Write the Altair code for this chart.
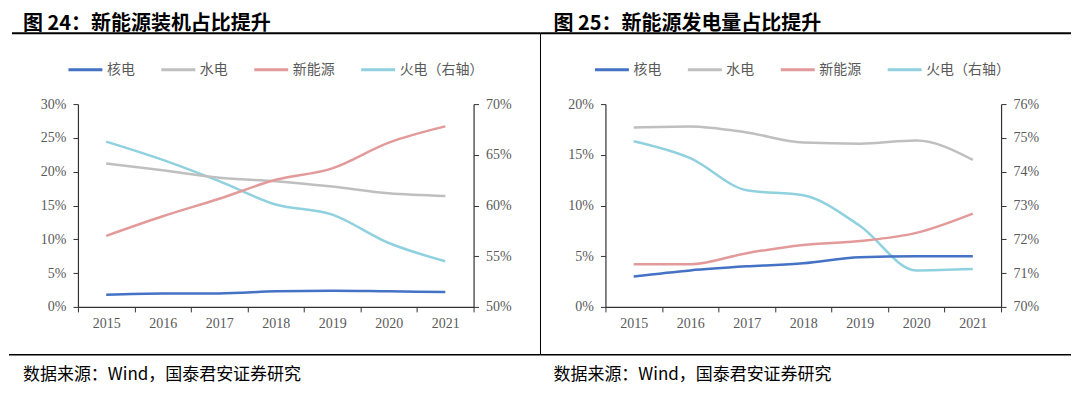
import altair as alt
import pandas as pd

years = ["2015", "2016", "2017", "2018", "2019", "2020", "2021"]
series_names = ["核电", "水电", "新能源", "火电（右轴）"]
series_colors = ["#4472c4", "#bfbfbf", "#e39a9a", "#8fd1de"]

# 图24 装机占比 (%)
cap_nuclear = [1.8, 2.0, 2.0, 2.3, 2.4, 2.3, 2.2]
cap_hydro = [21.2, 20.2, 19.1, 18.6, 17.8, 16.8, 16.4]
cap_new = [10.5, 13.4, 16.0, 18.8, 20.5, 24.3, 26.7]
cap_thermal = [66.3, 64.5, 62.4, 60.1, 59.1, 56.3, 54.5]

# 图25 发电量占比 (%)
gen_nuclear = [3.0, 3.6, 4.0, 4.3, 4.9, 5.0, 5.0]
gen_hydro = [17.7, 17.8, 17.2, 16.2, 16.1, 16.4, 14.5]
gen_new = [4.2, 4.2, 5.3, 6.1, 6.5, 7.3, 9.2]
gen_thermal = [74.9, 74.4, 73.45, 73.3, 72.4, 71.08, 71.12]

titles = ["图  24：新能源装机占比提升", "图  25：新能源发电量占比提升"]
source_text = "数据来源：Wind，国泰君安证券研究"

left_ticks_1 = [0, 5, 10, 15, 20, 25, 30]
right_ticks_1 = [50, 55, 60, 65, 70]
left_ticks_2 = [0, 5, 10, 15, 20]
right_ticks_2 = [70, 71, 72, 73, 74, 75, 76]

W = 396
H = 203
CJK = "Noto Sans CJK SC"


def one(k):
    return pd.DataFrame({"k": [k]})


def rule(x1, x2, y1, y2, width, color="#000000"):
    enc = {"x": alt.value(x1), "y": alt.value(y1)}
    if x2 is not None:
        enc["x2"] = alt.value(x2)
    if y2 is not None:
        enc["y2"] = alt.value(y2)
    return alt.Chart(one(0)).mark_rule(strokeWidth=width, color=color).encode(**enc)


def panel(nuc, hyd, new, therm, ldom, lvals, rdom, rvals, title, legx, decos, tx):
    left_df = pd.DataFrame({
        "year": years * 3,
        "series": [series_names[0]] * 7 + [series_names[1]] * 7 + [series_names[2]] * 7,
        "value": nuc + hyd + new,
    })
    right_df = pd.DataFrame({"year": years, "series": [series_names[3]] * 7, "value": therm})

    x = alt.X("year:O",
              scale=alt.Scale(type="band", paddingInner=0, paddingOuter=0),
              bandPosition=0.5,
              axis=alt.Axis(title=None, labelAngle=0, tickBand="extent", labelPadding=5))
    legend = alt.Legend(orient="none", legendX=legx, legendY=-53, direction="horizontal",
                        title=None, symbolType="stroke", symbolStrokeWidth=3, symbolSize=1156,
                        labelFont=CJK, labelFontSize=14, labelColor="#595959",
                        columnPadding=20, labelOffset=3)
    color = alt.Color("series:N", scale=alt.Scale(domain=series_names, range=series_colors),
                      legend=legend)

    lines_l = alt.Chart(left_df).mark_line(interpolate="monotone", strokeWidth=2.5).encode(
        x=x,
        y=alt.Y("value:Q", scale=alt.Scale(domain=ldom, nice=False, zero=False),
                axis=alt.Axis(orient="left", values=lvals, labelExpr="datum.value + '%'",
                              title=None, labelPadding=7)),
        color=color,
        detail="series:N",
    )
    lines_r = alt.Chart(right_df).mark_line(interpolate="monotone", strokeWidth=2.5).encode(
        x=x,
        y=alt.Y("value:Q", scale=alt.Scale(domain=rdom, nice=False, zero=False),
                axis=alt.Axis(orient="right", values=rvals, labelExpr="datum.value + '%'",
                              title=None, labelPadding=7)),
        color=color,
    )
    title_t = alt.Chart(pd.DataFrame({"t": [title]})).mark_text(
        align="left", baseline="middle", fontSize=20, fontWeight="bold", font=CJK, color="#000000"
    ).encode(text="t:N", x=alt.value(tx), y=alt.value(-80))
    src_t = alt.Chart(pd.DataFrame({"t": [source_text]})).mark_text(
        align="left", baseline="middle", fontSize=17, font=CJK, color="#000000"
    ).encode(text="t:N", x=alt.value(tx), y=alt.value(271))

    return alt.layer(lines_r, lines_l, *decos, title_t, src_t).resolve_scale(
        y="independent").properties(width=W, height=H)


p1 = panel(cap_nuclear, cap_hydro, cap_new, cap_thermal, [0, 30], left_ticks_1, [50, 70],
           right_ticks_1, titles[0], -11,
           [rule(-66, 463, -71, None, 2), rule(463, None, -71, 251, 1),
            rule(-69, 463, 251, None, 1.5)], -55)
p2 = panel(gen_nuclear, gen_hydro, gen_new, gen_thermal, [0, 20], left_ticks_2, [70, 76],
           right_ticks_2, titles[1], -12,
           [rule(-65, 466, -71, None, 2), rule(-65, 466, 251, None, 1.5)], -52)

chart = alt.hconcat(p1, p2, spacing=132, bounds="flush").resolve_scale(
    color="independent"
).properties(padding={"top": 6, "bottom": 6, "left": 0, "right": 0}).configure_view(
    stroke=None
).configure_axis(
    labelFont="Liberation Serif", labelFontSize=14, labelColor="#595959",
    domainColor="#333333", tickColor="#333333", tickSize=5, grid=False, domainWidth=1.2
)

chart.save("out.html", embed_options={"renderer": "svg", "actions": False})
